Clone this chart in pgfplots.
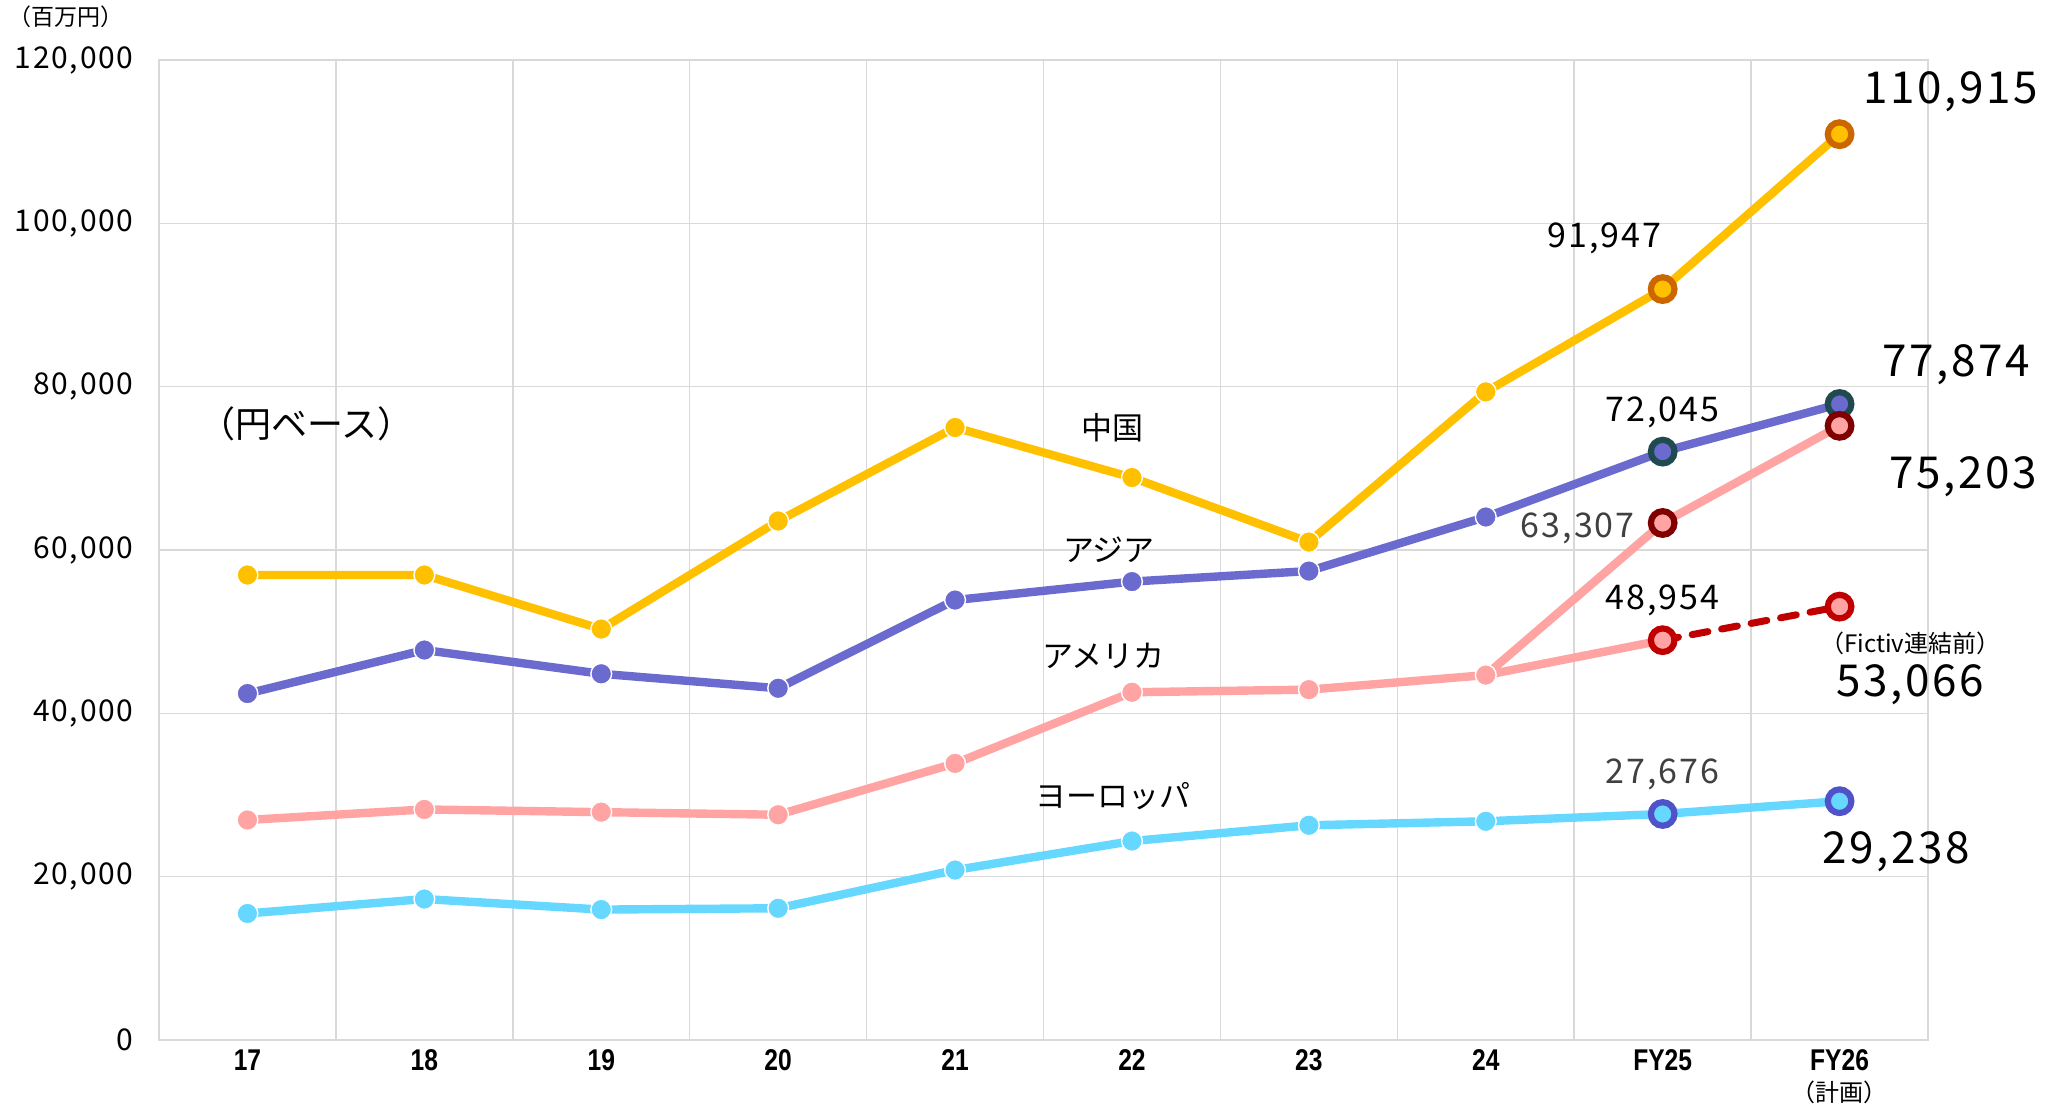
\documentclass[border=0pt]{standalone}
\usepackage{fontspec}
\setmainfont{Noto Sans CJK JP}
\newfontfamily\numf[LetterSpace=6]{Noto Sans CJK JP}
\newfontfamily\xfont[FakeStretch=0.82]{Liberation Sans Bold}
\usepackage{pgfplots}
\pgfplotsset{compat=1.18}

\definecolor{cn}{HTML}{FFC000}
\definecolor{cnD}{HTML}{CC6600}
\definecolor{as}{HTML}{6B6BCF}
\definecolor{asD}{HTML}{1F4A4F}
\definecolor{am}{HTML}{FFA3A3}
\definecolor{amD}{HTML}{800000}
\definecolor{amR}{HTML}{C00000}
\definecolor{eu}{HTML}{66D8FF}
\definecolor{euD}{HTML}{4F52C8}
\definecolor{gridc}{HTML}{D9D9D9}
\definecolor{txtg}{HTML}{404040}

\pgfplotsset{
 nm/.style={mark=*, mark size=5.2pt, mark options={solid, fill=#1, draw=white, line width=0.7pt}},
 sm/.style 2 args={only marks, mark=*, mark size=5.9pt, mark options={solid, fill=#1, draw=#2, line width=3.1pt}},
}
\newcommand\bigv{\fontsize{22}{26}\selectfont\numf}
\newcommand\medv{\fontsize{17}{20}\selectfont\numf}
\newcommand\catf{\fontsize{15.5}{18}\selectfont}

\begin{document}
\begin{tikzpicture}
\useasboundingbox (-79.5pt,-36pt) rectangle (952.5pt,520pt);
\begin{axis}[
  at={(0,0)}, anchor=south west, scale only axis,
  width=884.5pt, height=490pt,
  xmin=-0.5, xmax=9.5, ymin=0, ymax=120000,
  clip=false,
  ytick={0,20000,40000,60000,80000,100000,120000},
  xtick={0,1,2,3,4,5,6,7,8,9},
  xticklabels={17,18,19,20,21,22,23,24,FY25,FY26},
  minor xtick={0.5,1.5,2.5,3.5,4.5,5.5,6.5,7.5,8.5},
  xmajorgrids=false, xminorgrids=true, ymajorgrids=true,
  grid style={gridc, line width=0.75pt},
  minor grid style={gridc, line width=0.75pt},
  axis line style={gridc, line width=0.75pt},
  major tick length=0pt, minor tick length=0pt,
  scaled y ticks=false,
  yticklabel style={font=\fontsize{15}{18}\selectfont\numf, anchor=east, inner sep=0pt, xshift=-12.5pt,
    /pgf/number format/fixed, /pgf/number format/precision=0,
    /pgf/number format/1000 sep={,}, /pgf/number format/assume math mode=true},
  xticklabel style={font=\fontsize{15}{18}\selectfont\xfont, anchor=center, inner sep=0pt, yshift=-10pt},
]
% Europe
\addplot[eu, line width=4.2pt, line join=round, nm=eu, mark indices={1,2,3,4,5,6,7,8}] coordinates {
 (0,15490)(1,17260)(2,15970)(3,16130)(4,20810)(5,24360)(6,26290)(7,26780)(8,27676)(9,29238)};
\addplot[sm={eu}{euD}] coordinates {(8,27676)(9,29238)};
% China
\addplot[cn, line width=4.2pt, line join=round, nm=cn, mark indices={1,2,3,4,5,6,7,8}] coordinates {
 (0,56940)(1,56940)(2,50320)(3,63550)(4,75000)(5,68870)(6,60970)(7,79360)(8,91947)(9,110915)};
\addplot[sm={cn}{cnD}] coordinates {(8,91947)(9,110915)};
% Asia
\addplot[as, line width=4.2pt, line join=round, nm=as, mark indices={1,2,3,4,5,6,7,8}] coordinates {
 (0,42420)(1,47750)(2,44840)(3,43070)(4,53870)(5,56130)(6,57420)(7,64040)(8,72045)(9,77874)};
\addplot[sm={as}{asD}] coordinates {(8,72045)(9,77874)};
% America
\addplot[am, line width=4.2pt, line join=round] coordinates {(7,44680)(8,48954)};
\addplot[am, line width=4.2pt, line join=round, nm=am, mark indices={1,2,3,4,5,6,7,8}] coordinates {
 (0,26940)(1,28230)(2,27900)(3,27580)(4,33870)(5,42580)(6,42900)(7,44680)(8,63307)(9,75203)};
\addplot[amR, line width=3.5pt, line cap=round, dash pattern=on 8pt off 7pt] coordinates {(8,48954)(9,53066)};
\addplot[sm={am}{amD}] coordinates {(8,63307)(9,75203)};
\addplot[sm={am}{amR}] coordinates {(8,48954)(9,53066)};

% value labels
\node[font=\bigv] at (axis cs:9.63,116080) {110,915};
\node[font=\medv] at (axis cs:7.67,98200) {91,947};
\node[font=\bigv] at (axis cs:9.66,82700) {77,874};
\node[font=\medv] at (axis cs:8.0,76900) {72,045};
\node[font=\bigv] at (axis cs:9.70,69000) {75,203};
\node[font=\medv, text=txtg] at (axis cs:7.52,62700) {63,307};
\node[font=\medv] at (axis cs:8.0,53880) {48,954};
\node[font=\fontsize{12}{14}\selectfont] at (axis cs:9.40,48530) {（Fictiv連結前）};
\node[font=\bigv] at (axis cs:9.40,43530) {53,066};
\node[font=\medv, text=txtg] at (axis cs:8.0,32570) {27,676};
\node[font=\bigv] at (axis cs:9.32,23060) {29,238};
% category labels
\node[font=\catf] at (axis cs:4.89,74960) {中国};
\node[font=\catf] at (axis cs:4.87,59980) {アジア};
\node[font=\catf] at (axis cs:4.84,47080) {アメリカ};
\node[font=\catf] at (axis cs:4.89,29830) {ヨーロッパ};
\node[font=\fontsize{18}{21}\selectfont] at (axis cs:0.335,75450) {（円ベース）};
% extra texts
\node[font=\fontsize{12}{14}\selectfont, yshift=-26.3pt] at (axis cs:9,0) {（計画）};
\node[font=\fontsize{11.5}{13}\selectfont, xshift=-46.5pt, yshift=21.5pt] at (rel axis cs:0,1) {（百万円）};
\end{axis}
\end{tikzpicture}
\end{document}
